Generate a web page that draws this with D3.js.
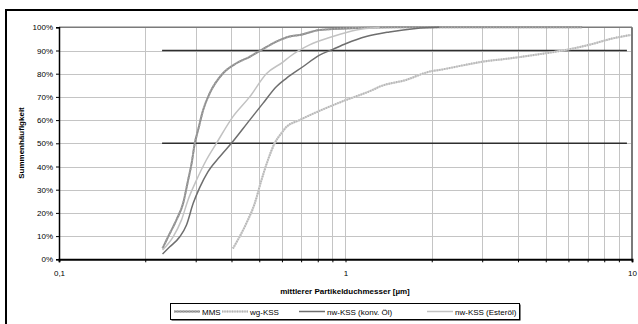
<!DOCTYPE html>
<html>
<head>
<meta charset="utf-8">
<script src="https://cdn.jsdelivr.net/npm/d3@7"></script>
<style>
  body { margin: 0; background: #fff; }
  svg text { font-family: "Liberation Sans", Arial, sans-serif; }
</style>
</head>
<body>
<div id="chart"></div>
<script>
(function () {
    var width = 638,
        height = 324;

    // Partikelgröße [µm] und Summenhäufigkeit [%]
    var mmsSize  = [0.2298, 0.2404, 0.2570, 0.2710, 0.2821, 0.2900, 0.2978, 0.3058, 0.3184, 0.3359, 0.3737, 0.4161, 0.4629, 0.5085, 0.5734, 0.638, 0.6914, 0.8115, 1.09, 1.5, 6.7];
    var mmsValue = [4.7, 9.7, 17, 24, 34, 41, 50, 55.7, 64.3, 71.6, 80.2, 84.5, 87.3, 90.2, 93.8, 96, 96.7, 98.8, 99.7, 100, 100];

    var wgSize  = [0.4048, 0.4508, 0.4819, 0.5085, 0.5362, 0.5657, 0.5970, 0.6214, 0.6914, 1.0056, 1.245, 1.314, 1.627, 1.962, 2.126, 3.009, 3.727, 5.003, 6.033, 7.271, 8.540, 9.90];
    var wgValue = [4.7, 15.5, 24, 34, 42.8, 50, 54.3, 57, 60, 68.7, 73, 74.4, 77.3, 80.9, 81.6, 85.2, 86.6, 88.8, 90.5, 92.8, 95.2, 96.7];

    var konvSize  = [0.2298, 0.2436, 0.2640, 0.2786, 0.2938, 0.3100, 0.3313, 0.3639, 0.3996, 0.4629, 0.5150, 0.5734, 0.6214, 0.7099, 0.8115, 0.9030, 1.0056, 1.181, 1.423, 1.763, 2.126];
    var konvValue = [2.3, 5.4, 9.7, 14.8, 24, 31, 37.8, 44.2, 50, 60, 67.2, 74.4, 78, 83, 88, 90.5, 93, 96, 98, 99.5, 100];

    var esterSize  = [0.2298, 0.2502, 0.2677, 0.2821, 0.3016, 0.3268, 0.3543, 0.4048, 0.4629, 0.5293, 0.6047, 0.638, 0.7491, 0.9030, 1.09, 1.314];
    var esterValue = [4, 9.7, 17, 25.6, 34, 42.8, 50, 61.5, 70, 80, 85, 87.3, 92.4, 96, 98.8, 100];

    // Hilfslinien 50% / 90%
    var refLevels = [50, 90];
    var refRange = [0.229, 9.6];

    var seriesNames = ["MMS", "wg-KSS", "nw-KSS (konv. Öl)", "nw-KSS (Esteröl)"];
    var xTickLabels = ["0,1", "1", "10"];

    function pairs(sizes, values) {
        return sizes.map(function (s, i) { return {x: s, y: values[i] / 100}; });
    }

    var series = [
        {name: seriesNames[0], pts: pairs(mmsSize, mmsValue), color: "#8e8e8e", w: 2, over: "#a8a8a8", overDash: "1,2"},
        {name: seriesNames[1], pts: pairs(wgSize, wgValue), color: "#d0d0d0", w: 2, over: "#b4b4b4", overDash: "1,1.5"},
        {name: seriesNames[2], pts: pairs(konvSize, konvValue), color: "#6e6e6e", w: 1.5},
        {name: seriesNames[3], pts: pairs(esterSize, esterValue), color: "#c2c2c2", w: 1.5}
    ];

    var svg = d3.select("#chart")
        .append("svg")
        .attr("width", width)
        .attr("height", height);

    var x = d3.scaleLog().domain([0.1, 10]).range([59, 632]);
    var y = d3.scaleLinear().domain([0, 1]).range([259.3, 27.3]);

    // outer chart border (only top and left are visible)
    svg.append("rect")
        .attr("x", 6).attr("y", 10)
        .attr("width", 700).attr("height", 400)
        .attr("fill", "none")
        .attr("stroke", "#000")
        .attr("stroke-width", 2);

    var minor = [];
    [0.1, 1].forEach(function (dec) {
        for (var k = 1; k <= 9; k++) minor.push(+(dec * k).toFixed(3));
    });
    minor.push(10);

    // gridlines
    var grid = svg.append("g");
    grid.selectAll(".vgrid")
        .data(minor.filter(function (v) { return v > 0.1 && v < 10; }))
        .enter().append("line")
        .attr("x1", function (d) { return Math.round(x(d)) + 0.5; })
        .attr("x2", function (d) { return Math.round(x(d)) + 0.5; })
        .attr("y1", y(1)).attr("y2", y(0))
        .attr("stroke", "#c4c4c4").attr("stroke-width", 1);

    grid.selectAll(".hgrid")
        .data(d3.range(1, 10).map(function (i) { return i / 10; }))
        .enter().append("line")
        .attr("x1", x(0.1)).attr("x2", x(10))
        .attr("y1", function (d) { return Math.round(y(d)) + 0.5; })
        .attr("y2", function (d) { return Math.round(y(d)) + 0.5; })
        .attr("stroke", "#c4c4c4").attr("stroke-width", 1);

    // plot frame top/right
    svg.append("line")
        .attr("x1", x(0.1)).attr("x2", x(10))
        .attr("y1", y(1)).attr("y2", y(1))
        .attr("stroke", "#7a7a7a").attr("stroke-width", 1.5);
    svg.append("line")
        .attr("x1", x(10)).attr("x2", x(10))
        .attr("y1", y(1)).attr("y2", y(0))
        .attr("stroke", "#7a7a7a").attr("stroke-width", 2);

    var line = d3.line()
        .x(function (d) { return x(d.x); })
        .y(function (d) { return y(d.y); })
        .curve(d3.curveMonotoneX);

    // reference lines
    svg.selectAll(".ref")
        .data(refLevels)
        .enter().append("line")
        .attr("x1", x(refRange[0])).attr("x2", x(refRange[1]))
        .attr("y1", function (d) { return y(d / 100); })
        .attr("y2", function (d) { return y(d / 100); })
        .attr("stroke", "#2e2e2e").attr("stroke-width", 1.5);

    series.forEach(function (s) {
        svg.append("path")
            .datum(s.pts)
            .attr("d", line)
            .attr("fill", "none")
            .attr("stroke", s.color)
            .attr("stroke-width", s.w);
        if (s.over) {
            svg.append("path")
                .datum(s.pts)
                .attr("d", line)
                .attr("fill", "none")
                .attr("stroke", s.over)
                .attr("stroke-width", s.w)
                .attr("stroke-dasharray", s.overDash);
        }
    });

    // axes
    var xAxis = d3.axisBottom(x)
        .tickValues(minor)
        .tickSize(3)
        .tickPadding(8)
        .tickFormat(function (d) {
            var i = [0.1, 1, 10].indexOf(d);
            return i >= 0 ? xTickLabels[i] : "";
        });
    var gx = svg.append("g")
        .attr("transform", "translate(0," + y(0) + ")")
        .call(xAxis);
    gx.select(".domain").attr("stroke", "#000").attr("stroke-width", 2);
    gx.selectAll(".tick line").attr("stroke", "#000");
    gx.selectAll("text").attr("font-size", 8).attr("fill", "#000");

    var yAxis = d3.axisLeft(y)
        .tickValues(d3.range(0, 11).map(function (i) { return i / 10; }))
        .tickSize(3)
        .tickPadding(3)
        .tickFormat(d3.format(".0%"));
    var gy = svg.append("g")
        .attr("transform", "translate(" + x(0.1) + ",0)")
        .call(yAxis);
    gy.select(".domain").attr("stroke", "#000").attr("stroke-width", 1.5);
    gy.selectAll(".tick line").attr("stroke", "#000");
    gy.selectAll("text").attr("font-size", 8).attr("fill", "#000");

    // titles
    svg.append("text")
        .attr("transform", "translate(24,143) rotate(-90)")
        .attr("text-anchor", "middle")
        .attr("font-size", 8)
        .attr("font-weight", "bold")
        .text("Summenhäufigkeit");

    svg.append("text")
        .attr("x", 345)
        .attr("y", 294)
        .attr("text-anchor", "middle")
        .attr("font-size", 8)
        .attr("font-weight", "bold")
        .text("mittlerer Partikelduchmesser [µm]");

    // legend
    var legend = svg.append("g");
    legend.append("rect")
        .attr("x", 171.5).attr("y", 304.5)
        .attr("width", 349).attr("height", 16)
        .attr("fill", "#000");
    legend.append("rect")
        .attr("x", 170.5).attr("y", 303.5)
        .attr("width", 349).attr("height", 16)
        .attr("fill", "#fff")
        .attr("stroke", "#000").attr("stroke-width", 1);

    var legendX = [202, 250, 327, 455];
    series.forEach(function (s, i) {
        var lx = legendX[i];
        var ly = 311.5;
        legend.append("line")
            .attr("x1", lx - 28).attr("x2", lx - 2)
            .attr("y1", ly).attr("y2", ly)
            .attr("stroke", s.color).attr("stroke-width", s.w);
        if (s.over) {
            legend.append("line")
                .attr("x1", lx - 28).attr("x2", lx - 2)
                .attr("y1", ly).attr("y2", ly)
                .attr("stroke", s.over).attr("stroke-width", s.w)
                .attr("stroke-dasharray", s.overDash);
        }
        legend.append("text")
            .attr("x", lx).attr("y", ly + 3)
            .attr("font-size", 8)
            .text(s.name);
    });
})();
</script>
</body>
</html>
